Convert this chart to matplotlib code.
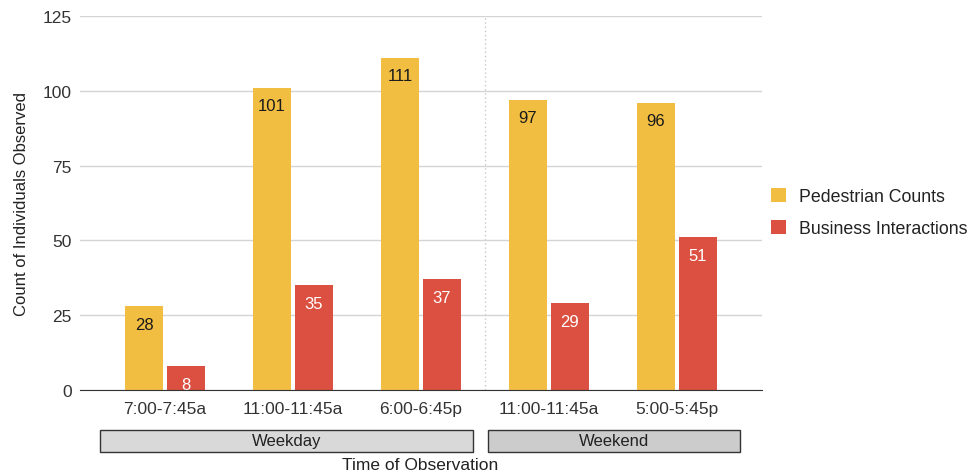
import matplotlib.pyplot as plt
import numpy as np
from matplotlib.patches import Rectangle
from matplotlib.transforms import blended_transform_factory

# Observation windows and counts
time_slots = ['7:00-7:45a', '11:00-11:45a', '6:00-6:45p', '11:00-11:45a', '5:00-5:45p']
pedestrian_counts = [28, 101, 111, 97, 96]
business_interactions = [8, 35, 37, 29, 51]
day_groups = ['Weekday', 'Weekend']
group_spans = [(-0.51, 2.41), (2.52, 4.49)]
group_colors = ['#d9d9d9', '#cccccc']

YELLOW = '#f1be42'
RED = '#db5040'

plt.rcParams['font.family'] = ['Liberation Sans', 'DejaVu Sans']

fig = plt.figure(figsize=(9.71, 4.77), dpi=100)
ax = fig.add_axes([80 / 971, 86 / 477, 682 / 971, 374 / 477])

x = np.arange(len(time_slots))
width = 0.297
offset = 0.164

bars_ped = ax.bar(x - offset, pedestrian_counts, width, color=YELLOW,
                  label='Pedestrian Counts', zorder=3)
bars_bus = ax.bar(x + offset, business_interactions, width, color=RED,
                  label='Business Interactions', zorder=3)

# value labels inside the bar tops
for bar, val in zip(bars_ped, pedestrian_counts):
    ax.text(bar.get_x() + bar.get_width() / 2, val - 6, str(val),
            ha='center', va='center', fontsize=12, color='#1a1a1a', zorder=4)
for bar, val in zip(bars_bus, business_interactions):
    ax.text(bar.get_x() + bar.get_width() / 2, val - 6, str(val),
            ha='center', va='center', fontsize=12, color='white', zorder=4)

ax.set_xlim(-0.664, 4.664)
ax.set_ylim(0, 125)
ax.set_yticks([0, 25, 50, 75, 100, 125])
ax.set_xticks(x)
ax.set_xticklabels(time_slots)
ax.tick_params(axis='both', length=0, labelsize=12.5, colors='#333333')
ax.tick_params(axis='x', pad=8)
ax.tick_params(axis='y', pad=6)

ax.grid(axis='y', color='#d4d4d4', linewidth=1, zorder=0)
for s in ['top', 'right', 'left']:
    ax.spines[s].set_visible(False)
ax.spines['bottom'].set_color('#333333')
ax.spines['bottom'].set_zorder(5)

# divider between weekday and weekend
ax.axvline(2.5, color='#c8c8c8', linestyle=(0, (1, 2)), linewidth=1, zorder=1)

ax.set_ylabel('Count of Individuals Observed', fontsize=12, color='#222222', labelpad=10)

# group boxes under the tick labels
trans = blended_transform_factory(ax.transData, fig.transFigure)
box_bottom = (477 - 453) / 477
box_height = 22 / 477
for name, (x0, x1), fc in zip(day_groups, group_spans, group_colors):
    ax.add_patch(Rectangle((x0, box_bottom), x1 - x0, box_height, transform=trans,
                           facecolor=fc, edgecolor='#333333', linewidth=1, clip_on=False))
    ax.text((x0 + x1) / 2, box_bottom + box_height / 2, name, transform=trans,
            ha='center', va='center', fontsize=12, color='#222222')

fig.text(420 / 971, (477 - 466) / 477, 'Time of Observation', ha='center', va='center',
         fontsize=12.5, color='#222222')

ax.legend(loc='center left', bbox_to_anchor=(0.995, 0.475), frameon=False, fontsize=12.8,
          handlelength=0.85, handleheight=0.85, handletextpad=0.7, labelspacing=0.85,
          borderaxespad=0.3, labelcolor='#222222')

fig.savefig('out.png', dpi=100, facecolor='white')
